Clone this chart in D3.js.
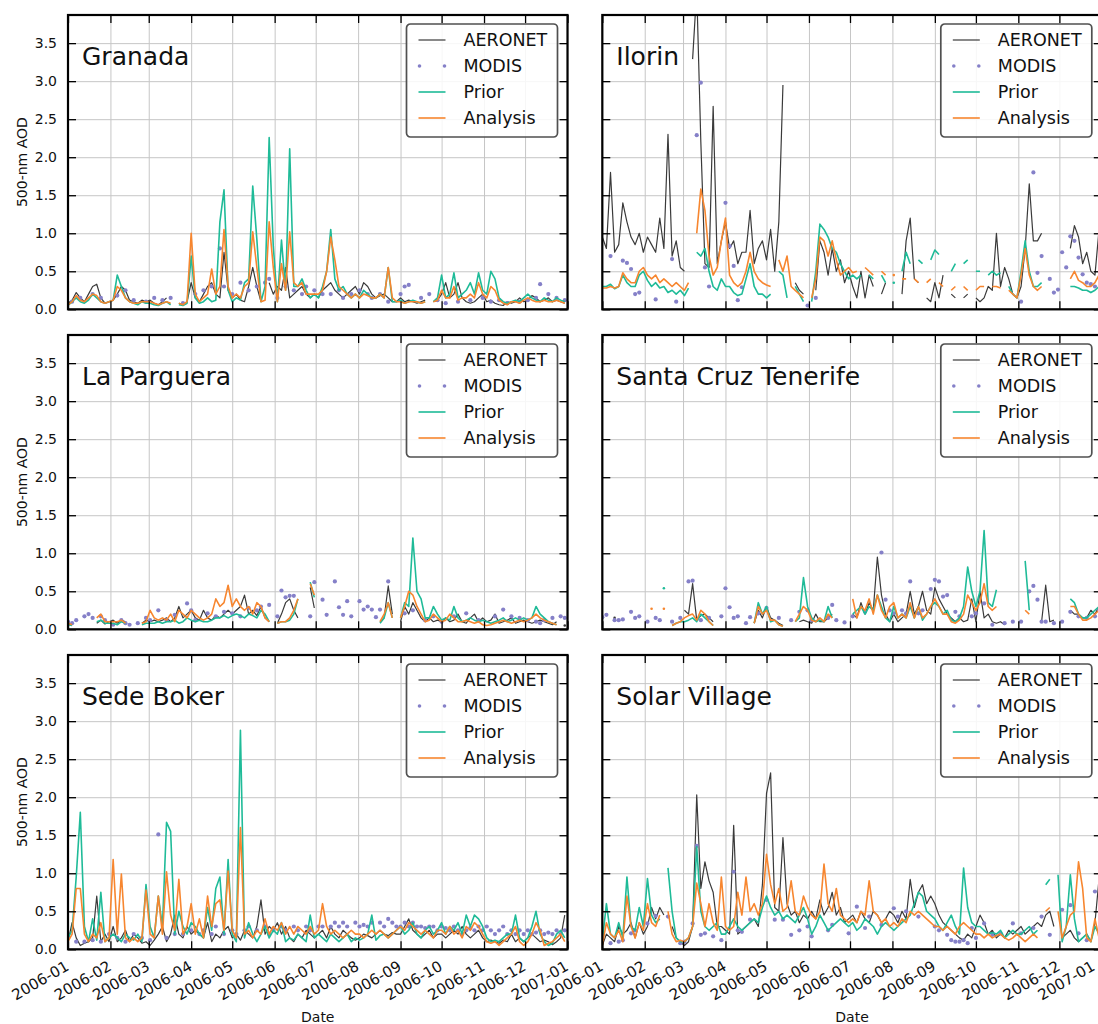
<!DOCTYPE html>
<html>
<head>
<meta charset="utf-8">
<script src="https://cdn.jsdelivr.net/npm/d3@7"></script>
<style>
  body { margin: 0; background: #fff; }
  text { font-family: "DejaVu Sans", sans-serif; fill: #111; }
</style>
</head>
<body>
<svg id="chart" width="1098" height="1024"></svg>
<script>
const _ = null;

// one value every 3 days from 2006-01-01 (122 values per series)
const startDate = new Date(Date.UTC(2006, 0, 1));
const endDate = new Date(Date.UTC(2007, 0, 1));
const stepDays = 3;

// Granada
const gr_aer = [0.08,0.12,0.22,0.15,0.1,0.2,0.3,0.33,0.15,0.08,
  0.1,0.12,0.2,0.3,0.25,0.12,0.1,0.08,0.12,0.1,
  0.12,0.08,0.06,0.1,0.15,_,_,0.08,0.06,0.1,
  0.35,0.15,0.1,0.2,0.3,0.35,0.2,0.15,0.75,0.25,
  0.15,0.2,0.12,0.1,0.3,0.55,0.3,0.1,_,0.35,
  0.2,0.3,0.25,0.55,0.15,0.2,0.25,0.3,0.2,0.15,
  0.2,0.15,0.25,0.3,0.35,0.25,0.2,0.15,0.2,0.25,
  0.3,0.2,0.35,0.3,0.2,0.15,0.18,0.2,0.15,0.1,
  0.1,0.15,0.1,0.12,0.1,0.08,0.1,0.12,_,0.1,
  0.12,0.2,0.35,0.15,0.2,0.35,0.15,0.1,0.08,0.1,
  0.15,0.2,0.1,0.12,0.08,0.06,0.05,0.1,0.08,0.1,
  0.15,0.1,0.12,0.18,0.15,0.1,0.12,0.15,0.1,0.12,
  0.1,0.08];
const gr_mod = [_,0.1,_,0.15,_,_,0.2,_,0.15,_,
  _,_,0.18,_,0.25,_,0.12,_,_,0.1,
  _,0.15,_,0.12,_,0.15,_,_,0.08,_,
  _,0.2,_,0.25,_,0.3,_,0.8,0.3,_,
  0.2,_,0.35,_,0.25,_,0.3,_,0.35,0.4,
  _,0.15,_,0.3,_,0.25,_,0.2,0.3,_,
  0.25,_,0.2,_,0.2,_,0.25,0.15,_,0.2,
  _,0.25,_,0.2,0.15,_,0.2,_,0.1,_,
  _,0.2,0.3,0.32,_,_,0.15,_,0.2,_,
  0.12,_,0.08,_,_,0.1,_,_,0.12,_,
  _,0.15,_,0.1,_,0.12,_,0.08,_,_,
  0.1,_,0.12,_,0.15,0.33,_,0.2,_,0.15,
  _,0.12];
const gr_pri = [0.05,0.1,0.15,0.1,0.08,0.12,0.2,0.15,0.1,0.08,
  0.1,0.12,0.45,0.3,0.15,0.1,0.08,0.06,0.1,0.08,
  0.08,0.06,0.05,0.08,0.1,0.06,_,0.06,0.05,0.08,
  0.7,0.15,0.08,0.1,0.15,0.1,0.12,1.15,1.57,0.25,
  0.1,0.15,0.12,0.35,0.4,1.62,0.92,0.1,0.3,2.26,
  0.83,0.1,0.91,0.25,2.11,0.3,0.3,0.4,0.25,0.15,
  0.2,0.15,0.3,0.5,1.05,0.4,0.25,0.3,0.2,0.15,
  0.2,0.15,0.25,0.2,0.15,0.15,0.2,0.15,0.55,0.1,
  0.1,0.12,0.08,0.1,0.12,0.1,0.08,0.1,_,0.1,
  0.15,0.45,0.15,0.2,0.48,0.15,0.2,0.25,0.35,0.2,
  0.48,0.25,0.2,0.5,0.4,0.15,0.1,0.08,0.1,0.12,
  0.1,0.15,0.2,0.15,0.12,0.1,0.15,0.12,0.1,0.15,
  0.12,0.1];
const gr_ana = [0.06,0.1,0.18,0.12,0.1,0.15,0.2,0.18,0.1,0.08,
  0.1,0.12,0.3,0.25,0.15,0.1,0.08,0.08,0.1,0.1,
  0.1,0.08,0.06,0.08,0.1,0.08,_,0.08,0.06,0.1,
  1.0,0.2,0.1,0.15,0.2,0.53,0.2,0.3,1.05,0.3,
  0.15,0.2,0.15,0.3,0.35,1.02,0.55,0.1,0.12,1.15,
  0.55,0.1,0.6,0.25,1.02,0.35,0.3,0.35,0.2,0.2,
  0.2,0.2,0.25,0.5,0.95,0.65,0.3,0.25,0.2,0.15,
  0.2,0.15,0.2,0.18,0.15,0.15,0.2,0.15,0.55,0.15,
  0.1,0.1,0.08,0.1,0.1,0.1,0.08,0.1,_,0.1,
  0.12,0.25,0.15,0.15,0.3,0.12,0.15,0.15,0.2,0.15,
  0.35,0.2,0.15,0.3,0.25,0.12,0.08,0.06,0.1,0.1,
  0.08,0.12,0.15,0.12,0.1,0.1,0.12,0.1,0.1,0.12,
  0.1,0.08];

// Ilorin
const il_aer = [0.95,0.8,1.8,0.75,0.85,1.4,1.15,0.95,0.85,1.0,
  0.75,0.95,0.85,0.75,1.2,0.8,2.3,0.7,0.9,0.55,
  0.5,_,3.29,4.2,2.2,0.6,0.55,2.67,0.6,0.9,
  1.15,0.8,0.9,0.6,0.75,0.75,1.3,0.6,0.8,0.9,
  0.65,1.05,0.5,1.15,2.95,_,_,0.35,0.25,0.2,
  _,_,0.25,0.9,0.75,0.45,0.8,0.5,0.65,0.35,
  0.5,0.3,0.15,0.5,0.15,0.45,0.3,_,0.2,0.35,
  _,_,_,0.2,0.9,1.2,0.4,0.35,_,0.15,
  0.1,0.35,0.15,0.45,_,0.2,0.15,_,0.15,0.2,
  _,0.15,0.1,0.15,0.3,0.25,1.0,0.3,0.55,0.4,
  0.2,0.15,0.3,0.8,1.65,0.9,0.9,1.0,_,_,
  _,_,_,_,0.8,1.1,0.95,0.6,0.75,0.5,
  0.45,1.05];
const il_mod = [_,_,0.7,_,_,0.64,0.61,0.53,0.2,0.22,
  _,_,_,0.13,_,_,_,0.66,0.1,_,
  _,_,_,2.29,2.98,0.55,0.3,_,_,_,
  1.4,0.83,0.57,0.12,0.29,_,_,_,_,_,
  _,_,_,_,_,_,_,_,_,_,
  0.05,_,0.15,_,_,_,_,_,_,_,
  _,_,_,_,_,_,_,_,_,_,
  _,_,_,_,_,_,_,_,_,_,
  _,_,_,_,_,_,_,_,_,_,
  _,_,_,_,_,_,_,_,_,_,
  _,_,0.1,_,_,1.8,0.48,0.7,_,0.4,
  0.22,0.26,0.75,0.55,0.96,0.9,0.68,0.46,0.35,0.33,
  0.3,_];
const il_pri = [0.3,0.3,0.33,0.27,0.3,0.45,0.35,0.3,0.3,0.45,
  0.5,0.38,0.3,0.35,0.28,0.3,0.22,0.25,0.2,0.25,
  0.18,0.28,_,0.75,0.7,0.8,0.5,0.3,0.25,0.4,
  0.3,0.3,0.22,0.18,0.2,0.4,0.6,0.3,0.2,0.2,
  0.15,0.2,_,0.5,0.45,0.15,_,0.3,0.2,0.1,
  _,0.1,0.5,1.12,1.05,0.95,0.8,0.75,0.6,0.5,
  0.4,0.45,0.4,0.45,_,0.45,0.4,_,0.45,0.35,
  _,0.35,_,0.5,0.75,0.6,_,0.65,0.6,_,
  0.65,0.78,0.72,_,_,0.5,0.6,_,0.6,0.65,
  _,0.5,0.5,_,0.45,0.5,0.45,0.48,_,0.3,
  0.2,0.15,0.5,0.9,0.5,0.3,0.3,0.35,_,_,
  _,_,_,_,0.3,0.3,0.28,0.25,0.25,0.22,
  0.25,0.3];
const il_ana = [0.28,0.28,0.3,0.28,0.3,0.48,0.4,0.35,0.35,0.5,
  0.55,0.45,0.4,0.45,0.35,0.4,0.35,0.3,0.35,0.3,
  0.25,0.35,_,1.0,1.58,1.3,0.7,0.45,0.55,0.9,
  1.2,0.45,0.35,0.3,0.35,0.5,0.75,0.5,0.4,0.35,
  0.32,0.3,_,0.65,0.5,0.7,0.3,0.25,0.2,0.15,
  _,0.15,0.4,0.95,0.9,0.7,0.9,0.65,0.45,0.5,
  0.55,0.48,0.5,_,0.55,0.5,0.45,_,0.5,0.45,
  _,0.45,_,0.4,0.4,_,0.4,0.35,_,0.35,
  0.4,_,0.35,0.3,_,0.25,0.3,_,0.3,0.25,
  _,0.25,0.3,0.3,_,0.3,0.3,0.28,_,0.25,
  0.2,0.15,0.45,0.8,0.45,0.3,0.25,0.3,_,_,
  _,_,_,_,0.4,0.5,0.38,0.35,0.3,0.3,
  0.35,0.45];

// La Parguera
const lp_aer = [0.08,0.06,_,_,_,_,_,0.08,0.12,0.07,
  0.1,0.12,0.08,0.12,0.1,_,_,_,0.08,0.12,
  0.1,0.12,0.1,0.12,0.15,0.1,0.15,0.3,0.15,0.2,
  0.25,0.15,0.12,0.25,0.15,0.12,0.18,0.15,0.2,0.25,
  0.2,0.25,0.3,0.45,0.2,0.25,0.18,0.3,0.15,0.1,
  _,0.08,0.2,0.35,0.4,0.25,0.15,_,_,0.55,
  0.28,_,_,_,_,_,_,_,_,_,
  _,_,_,_,_,_,0.1,0.15,0.57,0.2,
  _,0.1,0.3,0.2,0.35,0.25,0.15,0.1,0.15,0.1,
  0.12,0.1,0.15,0.1,0.12,0.2,0.1,0.08,0.15,0.2,
  0.1,0.15,0.1,0.12,0.2,0.08,0.1,0.12,0.15,0.08,
  0.1,0.12,0.1,0.08,0.1,0.12,0.1,0.08,0.06,0.1,
  _,0.05];
const lp_mod = [0.1,0.08,0.12,_,0.17,0.2,0.15,_,0.17,0.12,
  _,0.06,_,0.12,0.08,0.06,_,0.08,_,0.15,
  0.12,_,0.25,_,0.12,_,0.19,_,_,0.34,
  0.25,0.12,_,_,0.21,_,0.17,_,0.23,_,
  0.21,_,0.17,_,0.28,_,0.25,0.3,_,0.32,
  _,0.17,0.51,0.42,0.44,0.44,_,_,_,0.17,
  0.62,_,0.39,0.19,_,0.63,0.29,0.19,0.37,0.17,
  _,0.37,0.26,0.3,0.26,0.16,0.26,_,0.63,_,
  _,_,0.21,_,0.25,_,_,0.12,_,0.17,
  _,0.1,_,_,0.17,_,_,0.21,_,_,
  0.12,_,_,_,0.17,_,0.26,_,0.17,_,
  0.15,_,0.12,_,0.1,0.08,0.12,_,0.15,_,
  0.17,0.15];
const lp_pri = [0.06,0.05,_,_,_,_,_,0.1,0.12,0.08,
  0.08,0.08,0.06,0.1,0.08,_,_,_,0.06,0.08,
  0.08,0.08,0.1,0.08,0.1,0.1,0.12,0.08,0.1,0.15,
  0.12,0.1,0.12,0.1,0.1,0.12,0.15,0.15,0.18,0.15,
  0.18,0.2,0.18,0.15,0.2,0.18,0.15,0.25,0.2,0.1,
  _,0.08,0.1,0.1,0.12,0.2,0.4,_,_,0.62,
  0.42,_,_,_,_,_,_,_,_,_,
  _,_,_,_,_,_,0.08,0.15,0.35,0.15,
  _,0.15,0.35,0.3,1.2,0.5,0.4,0.15,0.15,0.3,
  0.2,0.12,0.15,0.12,0.3,0.15,0.1,0.12,0.15,0.12,
  0.1,0.12,0.1,0.08,0.1,0.12,0.15,0.1,0.12,0.15,
  0.12,0.15,0.12,0.15,0.3,0.2,0.15,0.1,0.08,0.06,
  _,_];
const lp_ana = [0.08,0.06,_,_,_,_,_,0.15,0.2,0.1,
  0.1,0.1,0.1,0.12,0.08,_,_,_,0.08,0.1,
  0.25,0.15,0.12,0.15,0.12,0.2,0.1,0.25,0.2,0.15,
  0.25,0.2,0.15,0.12,0.15,0.2,0.4,0.3,0.35,0.58,
  0.3,0.4,0.3,0.25,0.3,0.2,0.35,0.3,0.15,0.1,
  _,0.08,0.1,0.1,0.15,0.25,0.4,_,_,0.6,
  0.45,_,_,_,_,_,_,_,_,_,
  _,_,_,_,_,_,0.1,0.2,0.35,0.15,
  _,0.15,0.3,0.5,0.45,0.3,0.2,0.1,0.12,0.2,
  0.15,0.1,0.12,0.2,0.15,0.1,0.1,0.12,0.1,0.08,
  0.1,0.06,0.05,0.06,0.08,0.1,0.12,0.1,0.08,0.1,
  0.12,0.1,0.12,0.15,0.2,0.15,0.12,0.1,0.08,0.06,
  _,_];

// Santa Cruz Tenerife
const sc_aer = [_,_,_,0.15,_,_,_,_,_,_,
  _,_,_,_,_,_,_,_,_,_,
  0.25,0.2,0.6,0.12,0.18,0.2,0.15,0.1,_,_,
  _,_,_,_,_,_,_,0.08,0.25,0.15,
  0.3,0.15,0.12,0.08,0.05,_,_,_,0.1,0.12,
  0.1,0.08,0.2,0.1,0.1,0.15,0.2,_,_,_,
  _,0.2,0.15,0.35,0.2,0.35,0.25,0.95,0.45,0.2,
  0.1,0.2,0.1,0.15,0.2,0.5,0.2,0.3,0.5,0.25,
  0.2,0.55,0.4,0.3,0.2,0.15,0.1,0.15,0.1,0.12,
  0.4,0.1,0.5,0.15,0.2,0.1,0.08,0.1,0.06,_,
  _,_,_,_,_,_,_,0.1,0.58,0.1,
  0.12,_,_,_,0.25,0.2,0.2,0.15,0.15,0.25,
  0.2,0.3];
const sc_mod = [0.16,0.19,_,0.12,0.12,0.13,_,0.23,0.15,0.17,
  _,0.1,_,0.15,0.12,_,_,0.1,_,0.15,
  _,0.63,0.64,_,0.12,_,0.15,_,_,0.17,
  0.54,0.29,0.15,0.17,_,0.08,0.16,_,0.21,_,
  0.28,_,_,0.15,_,_,0.12,_,0.23,_,
  0.25,0.12,_,_,_,0.15,0.32,0.12,_,0.09,
  _,0.17,_,_,0.23,_,_,_,1.01,0.39,
  0.25,0.21,_,0.25,0.21,0.63,_,0.21,0.25,_,
  0.53,0.65,0.63,0.43,0.45,_,0.23,0.17,_,_,
  0.17,0.21,_,0.34,_,0.06,_,_,0.08,_,
  0.1,_,0.1,_,0.5,0.57,0.39,0.1,0.1,_,
  0.08,_,0.1,_,0.23,_,0.17,_,0.15,_,
  0.17,0.25];
const sc_pri = [_,_,_,_,_,_,_,_,_,_,
  _,_,_,_,_,0.54,_,0.05,0.08,0.1,
  0.1,0.12,0.15,0.1,0.2,0.15,0.1,0.05,_,_,
  _,_,_,_,_,_,_,0.08,0.35,0.2,
  0.3,0.1,0.12,0.06,0.04,_,_,0.1,0.15,0.68,
  0.3,0.15,0.1,0.12,0.1,0.3,0.15,_,_,_,
  _,0.2,0.25,0.3,0.2,0.3,0.25,0.45,0.3,0.15,
  0.1,0.3,0.15,0.2,0.15,0.3,0.15,0.3,0.12,0.2,
  0.3,0.35,0.3,0.2,0.25,0.12,0.1,0.15,0.3,0.82,
  0.5,0.3,0.5,1.3,0.35,0.3,0.52,_,_,_,
  _,_,_,0.9,0.25,_,_,_,_,_,
  _,_,_,_,0.4,0.35,0.2,0.15,0.15,0.2,
  0.25,0.3];
const sc_ana = [_,_,_,_,_,_,_,_,_,_,
  _,_,0.27,_,_,0.27,_,0.05,0.08,0.1,
  0.15,0.18,0.2,0.12,0.25,0.2,0.1,0.05,_,_,
  _,_,_,_,_,_,_,0.08,0.3,0.2,
  0.25,0.12,0.12,0.06,0.04,_,_,0.1,0.2,0.3,
  0.25,0.12,0.1,0.15,0.1,0.2,0.15,_,_,_,
  _,0.4,0.15,0.3,0.25,0.4,0.2,0.45,0.25,0.15,
  0.3,0.35,0.15,0.2,0.15,0.35,0.15,0.3,0.15,0.2,
  0.3,0.4,0.3,0.2,0.2,0.1,0.08,0.12,0.2,0.45,
  0.35,0.25,0.35,0.6,0.3,0.25,0.3,_,_,_,
  _,_,_,0.25,0.2,_,_,_,_,_,
  _,_,_,_,0.3,0.3,0.2,0.12,0.12,0.15,
  0.2,0.25];

// Sede Boker
const sb_aer = [0.1,0.35,0.15,0.05,0.08,0.1,0.15,0.7,0.1,0.2,
  0.1,0.3,0.1,0.15,0.25,0.1,0.2,0.15,0.08,0.1,
  0.05,0.12,0.2,0.3,0.1,0.2,0.45,0.2,0.15,0.3,
  0.2,0.25,0.2,0.15,0.35,0.1,0.2,0.15,0.25,0.3,
  0.15,0.2,0.12,0.25,0.2,0.15,0.3,0.65,0.2,0.3,
  0.25,0.35,0.2,0.3,0.15,0.1,0.2,0.15,0.25,0.2,
  0.15,0.2,0.25,0.15,0.3,0.2,0.15,0.25,0.2,0.15,
  0.12,0.15,0.2,0.18,0.15,0.2,0.25,0.2,0.18,0.22,
  0.2,0.2,0.3,0.4,0.25,0.2,0.15,0.2,0.25,0.15,
  0.2,0.2,0.15,0.2,0.25,0.2,0.3,0.2,0.15,0.2,
  0.25,0.15,0.1,0.12,0.1,0.08,0.12,0.1,0.2,0.1,
  0.15,0.1,0.15,0.2,0.15,0.1,0.12,0.1,0.06,0.1,
  0.15,0.45];
const sb_mod = [0.15,_,0.1,_,0.1,_,0.12,_,0.1,_,
  0.2,_,0.15,_,0.1,_,0.2,_,0.15,_,
  0.12,_,1.51,_,0.15,_,0.2,_,0.2,_,
  0.25,_,0.2,0.25,_,0.2,0.3,_,0.2,_,
  0.25,0.2,_,0.25,0.3,_,0.25,_,0.3,0.2,
  0.25,_,0.3,0.25,_,0.3,0.25,_,0.3,0.25,
  _,0.3,0.3,_,0.3,0.35,0.3,0.35,0.3,_,
  0.35,0.3,0.32,0.3,0.35,_,0.35,0.3,0.4,0.35,
  0.3,0.3,0.35,0.3,0.35,0.3,0.3,0.28,0.3,0.3,
  0.25,0.3,0.28,0.25,0.3,0.25,0.2,0.25,0.28,0.25,
  0.3,0.25,0.3,0.25,0.2,0.25,0.3,0.2,0.25,0.2,
  0.25,0.2,0.25,0.2,0.22,0.25,0.2,0.22,0.2,0.25,
  0.2,0.25];
const sb_pri = [0.15,0.25,0.95,1.8,0.3,0.1,0.4,0.12,0.75,0.1,
  0.15,0.2,0.15,0.1,0.2,0.15,0.12,0.2,0.1,0.85,
  0.3,0.15,0.7,0.3,1.67,1.55,0.2,0.5,0.3,0.2,
  0.35,0.3,0.2,0.15,0.55,0.25,0.8,0.95,0.2,1.18,
  0.2,0.1,2.88,0.15,0.35,0.2,0.1,0.2,0.3,0.15,
  0.25,0.2,0.35,0.1,0.15,0.12,0.2,0.15,0.1,0.45,
  0.15,0.2,0.15,0.1,0.2,0.15,0.1,0.15,0.2,0.1,
  0.15,0.12,0.15,0.2,0.45,0.12,0.18,0.2,0.15,0.2,
  0.25,0.3,0.2,0.25,0.35,0.2,0.15,0.25,0.3,0.2,
  0.25,0.35,0.2,0.3,0.25,0.35,0.2,0.45,0.3,0.45,
  0.4,0.3,0.15,0.1,0.12,0.1,0.15,0.2,0.2,0.45,
  0.15,0.1,0.15,0.3,0.5,0.2,0.1,0.05,0.08,0.2,
  0.25,0.15];
const sb_ana = [0.1,0.2,0.8,0.8,0.2,0.1,0.2,0.15,0.35,0.1,
  0.15,1.18,0.2,0.99,0.15,0.1,0.15,0.1,0.15,0.78,
  0.2,0.15,0.7,0.2,1.02,0.45,0.25,0.92,0.2,0.3,
  0.6,0.2,0.4,0.15,0.7,0.3,0.6,0.65,0.25,1.03,
  0.25,0.15,1.6,0.2,0.25,0.15,0.25,0.2,0.4,0.2,
  0.3,0.25,0.35,0.2,0.3,0.2,0.3,0.25,0.2,0.3,
  0.2,0.25,0.6,0.3,0.2,0.25,0.2,0.15,0.2,0.25,
  0.2,0.2,0.15,0.2,0.25,0.2,0.25,0.2,0.15,0.2,
  0.25,0.3,0.25,0.35,0.3,0.25,0.2,0.25,0.2,0.15,
  0.25,0.25,0.2,0.3,0.2,0.25,0.15,0.3,0.25,0.35,
  0.3,0.2,0.1,0.08,0.1,0.05,0.1,0.15,0.2,0.3,
  0.1,0.05,0.1,0.2,0.35,0.25,0.05,0.08,0.1,0.15,
  0.2,0.1];

// Solar Village
const sv_aer = [0.05,0.2,0.15,0.1,0.3,0.2,0.25,0.35,0.15,0.35,
  0.2,0.3,0.55,0.4,0.55,0.45,_,0.3,0.15,0.1,
  0.05,0.1,0.3,2.03,0.8,1.15,0.9,0.75,0.3,0.3,
  0.25,0.2,1.63,0.2,0.25,0.3,0.35,0.4,0.3,0.85,
  2.05,2.32,0.55,0.5,1.47,0.6,0.45,0.5,0.35,0.45,
  0.4,0.5,0.4,0.65,0.45,0.55,0.75,0.45,0.55,0.35,
  0.4,0.45,0.35,0.5,0.4,0.35,0.5,0.45,0.35,0.4,
  0.5,0.45,0.35,0.5,0.4,0.92,0.55,0.75,0.85,0.6,
  0.7,0.6,0.45,0.35,0.3,0.25,0.2,0.15,0.12,0.2,
  0.15,0.3,0.45,0.35,0.2,0.25,0.15,0.2,0.15,0.25,
  0.2,0.25,0.3,0.2,0.25,0.3,0.35,0.3,0.45,0.5,
  0.3,_,0.15,0.2,0.25,0.15,0.1,0.15,0.2,0.1,
  0.35,0.93];
const sv_mod = [_,_,0.08,_,0.1,0.12,_,0.21,0.25,_,
  _,0.34,_,0.44,_,_,0.43,_,_,0.08,
  0.1,_,0.34,1.36,0.19,0.21,_,0.17,_,0.12,
  _,_,1.02,0.25,0.23,_,0.39,_,_,_,
  0.65,_,0.39,_,0.39,_,0.19,_,0.25,_,
  0.3,0.17,_,_,_,0.25,0.32,_,_,_,
  0.21,_,0.56,_,0.28,0.43,_,_,0.32,_,
  _,0.54,0.43,_,0.5,_,_,0.43,_,_,
  _,0.3,0.25,_,0.19,0.12,0.1,0.1,0.12,0.08,
  0.28,0.15,_,0.34,_,0.19,_,0.21,_,_,
  0.34,_,0.21,_,_,0.28,_,0.43,_,0.19,
  _,_,0.52,_,0.58,_,0.21,_,0.12,_,
  0.76,_];
const sv_pri = [0.1,0.6,0.2,0.15,0.35,0.15,0.95,0.3,0.25,0.55,
  0.3,0.93,0.45,0.35,0.4,_,1.07,0.5,0.15,0.1,
  0.1,0.15,0.3,1.35,0.5,0.3,0.25,0.3,0.35,0.2,
  0.2,0.3,0.4,0.3,0.25,0.3,0.35,0.4,0.35,0.55,
  0.7,0.55,0.45,0.5,0.4,0.45,0.4,0.35,0.45,0.55,
  0.4,0.2,0.3,0.45,0.35,0.25,0.3,0.35,0.4,0.35,
  0.3,0.35,0.25,0.3,0.4,0.35,0.3,0.2,0.3,0.35,
  0.3,0.25,0.3,0.35,0.4,0.45,0.6,0.75,0.7,0.5,
  0.45,0.4,0.3,0.25,0.35,0.45,0.3,0.2,1.07,0.55,
  0.35,0.3,0.3,0.25,0.2,0.22,0.2,0.25,0.15,0.2,
  0.25,0.2,0.2,0.25,0.3,0.2,0.25,_,0.85,0.92,
  _,0.98,0.1,0.3,0.98,0.4,0.1,0.15,0.2,0.1,
  0.3,0.2];
const sv_ana = [0.05,0.35,0.2,0.15,0.25,0.1,0.7,0.3,0.15,0.35,
  0.25,0.6,0.35,0.3,0.45,_,0.5,0.2,0.1,0.12,
  0.1,0.15,0.3,0.87,0.6,0.3,0.6,0.35,0.25,0.95,
  0.3,0.25,0.3,0.75,0.45,0.95,0.5,0.6,0.45,0.6,
  1.25,0.85,0.6,0.8,0.5,0.55,0.9,0.5,0.45,0.7,
  0.55,0.45,0.4,0.5,1.12,0.6,0.5,0.8,0.45,0.4,
  0.35,0.4,0.35,0.5,0.45,0.9,0.5,0.45,0.35,0.4,
  0.3,0.35,0.3,0.4,0.35,0.5,0.45,0.5,0.45,0.4,
  0.35,0.3,0.3,0.25,0.3,0.25,0.2,0.3,0.35,0.3,
  0.25,0.2,0.2,0.15,0.2,0.15,0.18,0.2,0.15,0.12,
  0.15,0.2,0.15,0.1,0.15,0.2,0.15,_,0.5,0.55,
  _,0.5,0.15,0.3,0.45,0.5,1.15,0.8,0.15,0.1,
  0.4,0.15];

const stationNames = ["Granada", "Ilorin", "La Parguera", "Santa Cruz Tenerife", "Sede Boker", "Solar Village"];
const aeronetSeries = [gr_aer, il_aer, lp_aer, sc_aer, sb_aer, sv_aer];
const modisSeries = [gr_mod, il_mod, lp_mod, sc_mod, sb_mod, sv_mod];
const priorSeries = [gr_pri, il_pri, lp_pri, sc_pri, sb_pri, sv_pri];
const analysisSeries = [gr_ana, il_ana, lp_ana, sc_ana, sb_ana, sv_ana];
const legendLabels = ["AERONET", "MODIS", "Prior", "Analysis"];
const yTickValues = [0, 0.5, 1.0, 1.5, 2.0, 2.5, 3.0, 3.5];

const colors = { aeronet: "#3a3a3a", modis: "#8580c8", prior: "#1fbb98", analysis: "#f7862f" };

const svg = d3.select("#chart");
const pageW = 1098;
const W = 499.5, H = 294.3;
const colX = [68, 602.3];
const rowY = [15, 335, 655];
const yMax = 3.87;
const fmt = d3.utcFormat("%Y-%m");

function toPoints(arr) {
    return arr.map((v, i) => ({ t: d3.utcDay.offset(startDate, i * stepDays), v: v }));
}

stationNames.forEach((name, k) => {
    const col = k % 2, row = Math.floor(k / 2);
    const x0 = colX[col], y0 = rowY[row];
    const x = d3.scaleUtc().domain([startDate, endDate]).range([x0, x0 + W]);
    const y = d3.scaleLinear().domain([0, yMax]).range([y0 + H, y0]);
    const monthTicks = x.ticks(d3.utcMonth.every(1));

    const g = svg.append("g");
    g.append("clipPath").attr("id", "clip" + k)
        .append("rect").attr("x", x0).attr("y", y0).attr("width", W).attr("height", H);

    // grid
    g.append("g").attr("transform", `translate(0,${y0 + H})`)
        .call(d3.axisBottom(x).tickValues(monthTicks).tickSize(-H).tickFormat(""))
        .call(s => s.select(".domain").remove())
        .selectAll("line").attr("stroke", "#c6c6c6").attr("stroke-width", 1);
    g.append("g").attr("transform", `translate(${x0},0)`)
        .call(d3.axisLeft(y).tickValues(yTickValues).tickSize(-W).tickFormat(""))
        .call(s => s.select(".domain").remove())
        .selectAll("line").attr("stroke", "#c6c6c6").attr("stroke-width", 1);

    // series
    const plot = g.append("g").attr("clip-path", `url(#clip${k})`);
    const line = d3.line().defined(d => d.v != null).x(d => x(d.t)).y(d => y(d.v));

    function drawLine(arr, color, width) {
        const pts = toPoints(arr);
        plot.append("path").datum(pts)
            .attr("d", line).attr("fill", "none")
            .attr("stroke", color).attr("stroke-width", width)
            .attr("stroke-linejoin", "round");
        // lone values show up as small marks
        const lone = pts.filter((d, i) => d.v != null &&
            (i === 0 || pts[i - 1].v == null) && (i === pts.length - 1 || pts[i + 1].v == null));
        plot.selectAll(null).data(lone).join("circle")
            .attr("cx", d => x(d.t)).attr("cy", d => y(d.v)).attr("r", 1.3).attr("fill", color);
    }

    drawLine(aeronetSeries[k], colors.aeronet, 1.2);
    plot.selectAll(null).data(toPoints(modisSeries[k]).filter(d => d.v != null)).join("circle")
        .attr("cx", d => x(d.t)).attr("cy", d => y(d.v)).attr("r", 2.1).attr("fill", colors.modis);
    drawLine(priorSeries[k], colors.prior, 1.6);
    drawLine(analysisSeries[k], colors.analysis, 1.6);

    // inward ticks on all four sides
    const tickStyle = s => {
        s.select(".domain").remove();
        s.selectAll("line").attr("stroke", "#000").attr("stroke-width", 1.3);
    };
    g.append("g").attr("transform", `translate(0,${y0 + H})`)
        .call(d3.axisBottom(x).tickValues(monthTicks).tickSizeInner(-8).tickSizeOuter(0).tickFormat(""))
        .call(tickStyle);
    g.append("g").attr("transform", `translate(0,${y0})`)
        .call(d3.axisTop(x).tickValues(monthTicks).tickSizeInner(-8).tickSizeOuter(0).tickFormat(""))
        .call(tickStyle);
    const leftAxis = g.append("g").attr("transform", `translate(${x0},0)`)
        .call(d3.axisLeft(y).tickValues(yTickValues).tickSizeInner(-8).tickSizeOuter(0)
            .tickPadding(11).tickFormat(col === 0 ? d3.format(".1f") : ""))
        .call(tickStyle);
    leftAxis.selectAll("text").attr("font-size", 14).attr("fill", "#111")
        .attr("font-family", "DejaVu Sans, sans-serif");
    g.append("g").attr("transform", `translate(${x0 + W},0)`)
        .call(d3.axisRight(y).tickValues(yTickValues).tickSizeInner(-8).tickSizeOuter(0).tickFormat(""))
        .call(tickStyle);

    // frame
    g.append("rect").attr("x", x0).attr("y", y0).attr("width", W).attr("height", H)
        .attr("fill", "none").attr("stroke", "#000").attr("stroke-width", 2.2);

    // station title
    g.append("text").attr("x", x0 + 14).attr("y", y0 + 50)
        .attr("font-size", 25).text(name);

    // legend
    const lg = g.append("g").attr("transform", `translate(${x0 + W - 161},${y0 + 9})`);
    lg.append("rect").attr("width", 151).attr("height", 113).attr("rx", 4)
        .attr("fill", "#fff").attr("fill-opacity", 0.85)
        .attr("stroke", "#505050").attr("stroke-width", 1.7);
    const legColors = [colors.aeronet, colors.modis, colors.prior, colors.analysis];
    legendLabels.forEach((lab, j) => {
        const ry = 16 + j * 26;
        if (j === 1) {
            lg.append("circle").attr("cx", 13).attr("cy", ry).attr("r", 1.8).attr("fill", legColors[j]);
            lg.append("circle").attr("cx", 38).attr("cy", ry).attr("r", 1.8).attr("fill", legColors[j]);
        } else {
            lg.append("line").attr("x1", 12).attr("x2", 39).attr("y1", ry).attr("y2", ry)
                .attr("stroke", legColors[j]).attr("stroke-width", j === 0 ? 1.2 : 1.6);
        }
        lg.append("text").attr("x", 57).attr("y", ry).attr("dy", "0.35em")
            .attr("font-size", 17.5).text(lab);
    });

    // y label on the left column
    if (col === 0) {
        g.append("text")
            .attr("transform", `translate(27,${y0 + H / 2}) rotate(-90)`)
            .attr("text-anchor", "middle").attr("font-size", 14).text("500-nm AOD");
    }

    // date labels on the bottom row (the last one is pulled inside the page)
    if (row === 2) {
        g.selectAll(null).data(monthTicks).join("text")
            .attr("transform", d => `translate(${Math.min(x(d) + 2, pageW - 2)},${y0 + H + 20}) rotate(-30)`)
            .attr("text-anchor", "end").attr("font-size", 15).text(d => fmt(d));
        g.append("text").attr("x", x0 + W / 2).attr("y", 1022)
            .attr("text-anchor", "middle").attr("font-size", 14).text("Date");
    }
});
</script>
</body>
</html>
